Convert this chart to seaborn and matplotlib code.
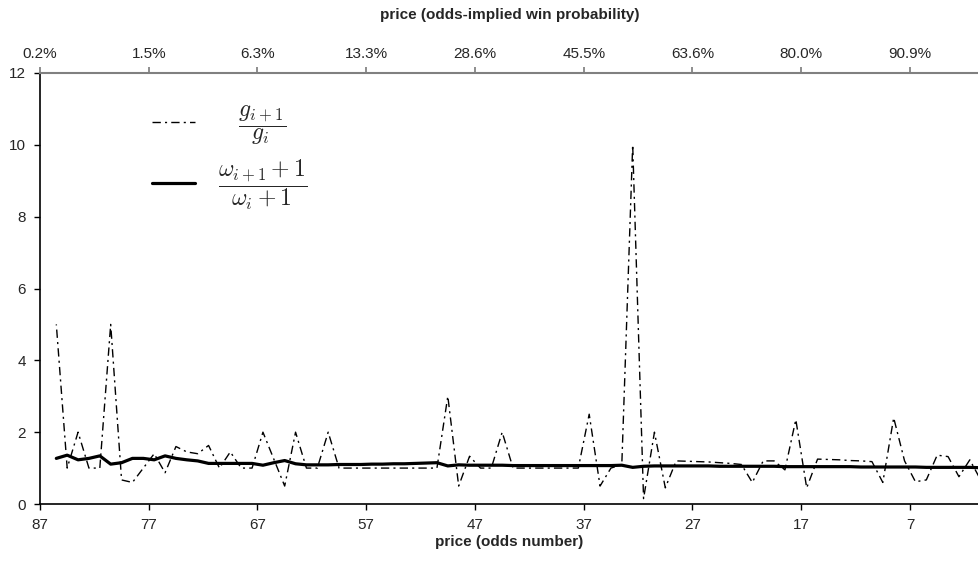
import numpy as np
import matplotlib
matplotlib.use("Agg")
import matplotlib.pyplot as plt
import seaborn as sns

# ratio between consecutive odds numbers, placed half way between them
odds_pos = np.arange(85, -1, -1) + 0.5

g_ratio = [5.0, 1.0, 2.0, 1.0, 1.0, 5.0, 0.67, 0.6, 1.0, 1.4,
           0.87, 1.6, 1.45, 1.4, 1.63, 1.0, 1.45, 1.0, 1.0, 2.0,
           1.25, 0.5, 2.0, 1.0, 1.0, 2.0, 1.0, 1.0, 1.0, 1.0,
           1.0, 1.0, 1.0, 1.0, 1.0, 1.0, 3.0, 0.5, 1.33, 1.0,
           1.0, 2.0, 1.0, 1.0, 1.0, 1.0, 1.0, 1.0, 1.0, 2.5,
           0.5, 1.0, 1.1, 10.0, 0.15, 2.0, 0.45, 1.2, 1.19, 1.18,
           1.17, 1.15, 1.13, 1.1, 0.6, 1.2, 1.2, 0.95, 2.35, 0.45,
           1.25, 1.24, 1.23, 1.21, 1.2, 1.18, 0.6, 2.4, 1.2, 0.62,
           0.67, 1.36, 1.32, 0.76, 1.23, 0.67]

w_ratio = [1.27, 1.36, 1.23, 1.27, 1.34, 1.11, 1.15, 1.27, 1.27, 1.23,
           1.34, 1.27, 1.23, 1.2, 1.13, 1.13, 1.13, 1.13, 1.13, 1.08,
           1.15, 1.21, 1.12, 1.09, 1.09, 1.09, 1.1, 1.1, 1.1, 1.11,
           1.11, 1.12, 1.12, 1.13, 1.14, 1.15, 1.06, 1.09, 1.08, 1.08,
           1.08, 1.08, 1.07, 1.07, 1.07, 1.07, 1.07, 1.07, 1.07, 1.07,
           1.07, 1.07, 1.08, 1.02, 1.05, 1.06, 1.06, 1.06, 1.06, 1.06,
           1.06, 1.05, 1.05, 1.05, 1.05, 1.05, 1.05, 1.04, 1.04, 1.04,
           1.04, 1.04, 1.04, 1.04, 1.03, 1.03, 1.03, 1.03, 1.03, 1.03,
           1.02, 1.02, 1.02, 1.02, 1.02, 1.01]

odds_ticks = [87, 77, 67, 57, 47, 37, 27, 17, 7]
prob_labels = ['0.2%', '1.5%', '6.3%', '13.3%', '28.6%', '45.5%', '63.6%', '80.0%', '90.9%']

sns.set_theme(style="ticks")
plt.rcParams['font.family'] = ['Liberation Sans', 'DejaVu Sans']
plt.rcParams['mathtext.fontset'] = 'cm'

fig = plt.figure(figsize=(9.79, 5.61), dpi=100)
ax = fig.add_axes([40 / 979, 1 - 504 / 561, 939 / 979, 431 / 561])

sns.lineplot(x=odds_pos, y=g_ratio, ax=ax, color='black', lw=1.0,
             linestyle=(0, (6, 3, 1.5, 3)), label=r'$\quad\dfrac{g_{i+1}}{g_i}$')
sns.lineplot(x=odds_pos, y=w_ratio, ax=ax, color='black', lw=2.3,
             label=r'$\dfrac{\omega_{i+1}+1}{\omega_i+1}$')

ax.set_xlim(87, 87 - 939 / 10.875)
ax.set_ylim(0, 12)
ax.set_yticks(range(0, 13, 2))
ax.set_xticks(odds_ticks)
ax.tick_params(axis='both', labelsize=11, length=4, width=1, color='black', pad=6)
ax.set_xlabel("price (odds number)", fontsize=11, fontweight='bold', labelpad=2)
ax.set_ylabel("")
for side in ['top', 'right']:
    ax.spines[side].set_visible(False)
for side in ['left', 'bottom']:
    ax.spines[side].set_color('black')
    ax.spines[side].set_linewidth(1.2)

# top axis: odds-implied win probability
ax_top = ax.twiny()
ax_top.set_xlim(ax.get_xlim())
ax_top.set_xticks(odds_ticks)
ax_top.set_xticklabels(prob_labels)
ax_top.tick_params(axis='x', labelsize=11, length=4, color='#808080', pad=5)
ax_top.set_xlabel("price (odds-implied win probability)", fontsize=11, fontweight='bold', labelpad=20)
for side in ['left', 'right', 'bottom']:
    ax_top.spines[side].set_visible(False)
ax_top.spines['top'].set_color('#808080')
ax_top.spines['top'].set_linewidth(1.5)

ax.legend(loc='upper left', bbox_to_anchor=(0.0967, 0.980), frameon=False,
          fontsize=17, handlelength=1.82, labelspacing=0.46, handletextpad=0.97)

fig.savefig("out.png", dpi=100)
